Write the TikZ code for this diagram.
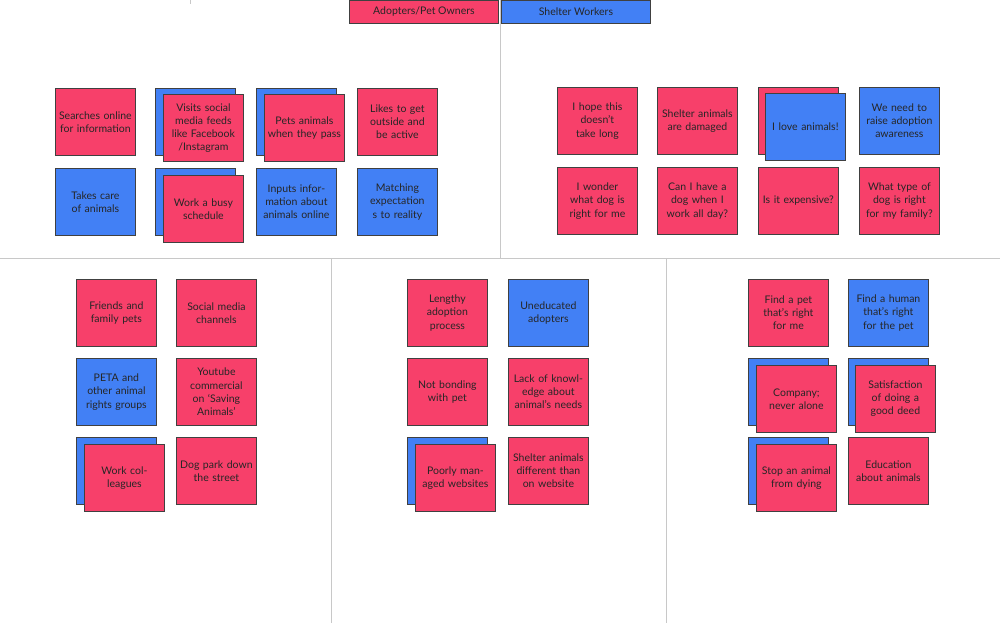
\documentclass[tikz,border=0pt]{standalone}
\usepackage{fontspec}
\setmainfont{Lato}
\definecolor{pk}{RGB}{247,64,106}
\definecolor{bl}{RGB}{66,128,245}
\definecolor{ln}{RGB}{200,200,200}
\tikzset{
 note/.style={draw=black!75,line width=0.8pt,anchor=north west,minimum width=80pt,minimum height=67pt,text width=74pt,align=center,inner sep=2pt,font=\fontsize{10.5}{13.2}\selectfont,text=black!85},
 pn/.style={note,fill=pk}, bn/.style={note,fill=bl},
 hdr/.style={draw=black!75,line width=0.8pt,anchor=north west,minimum width=149pt,minimum height=23pt,inner sep=0pt,font=\fontsize{10.5}{12}\selectfont,text=black!85},
 sep/.style={draw=ln,line width=0.8pt}
}
\begin{document}
\begin{tikzpicture}[x=1pt,y=-1pt]
\path[use as bounding box] (0,0) rectangle (1000,623);
\coordinate (v1a) at (500,0); \coordinate (v1b) at (500,258);
\coordinate (ha) at (0,258); \coordinate (hb) at (1000,258);
\coordinate (v2a) at (331,258); \coordinate (v2b) at (331,623);
\coordinate (v3a) at (666,258); \coordinate (v3b) at (666,623);
\coordinate (t1) at (190,0); \coordinate (t2) at (190,4);
\draw[sep] (v1a)--(v1b); \draw[sep] (ha)--(hb); \draw[sep] (v2a)--(v2b); \draw[sep] (v3a)--(v3b); \draw[sep] (t1)--(t2);
\node[hdr,fill=pk] (h1) at (349,0) {Adopters/Pet Owners};
\node[hdr,fill=bl] (h2) at (501,0) {Shelter Workers};
% top-left
\node[pn] (a1) at (55,88) {Searches online for information};
\node[bn] (a2b) at (155,88) {};
\node[pn] (a2) at (163,94) {Visits social media feeds like Facebook /Instagram};
\node[bn] (a3b) at (256,88) {};
\node[pn] (a3) at (264,94) {Pets animals when they pass};
\node[pn] (a4) at (357,88) {Likes to get outside and be active};
\node[bn] (a5) at (55,168) {Takes care of animals};
\node[bn] (a6b) at (155,168) {};
\node[pn] (a6) at (163,175) {Work a busy schedule};
\node[bn] (a7) at (256,168) {Inputs information about animals online};
\node[bn] (a8) at (357,168) {Matching expectation s to reality};
% top-right
\node[pn] (b1) at (557,87) {I hope this doesn't take long};
\node[pn] (b2) at (657,87) {Shelter animals are damaged};
\node[pn] (b3b) at (758,87) {};
\node[bn] (b3) at (765,93) {I love animals!};
\node[bn] (b4) at (859,87) {We need to raise adoption awareness};
\node[pn] (b5) at (557,167) {I wonder what dog is right for me};
\node[pn] (b6) at (657,167) {Can I have a dog when I work all day?};
\node[pn] (b7) at (758,167) {Is it expensive?};
\node[pn] (b8) at (859,167) {What type of dog is right for my family?};
% bottom-left
\node[pn] (c1) at (76,279) {Friends and family pets};
\node[pn] (c2) at (176,279) {Social media channels};
\node[bn] (c3) at (76,358) {PETA and other animal rights groups};
\node[pn] (c4) at (176,358) {Youtube commercial on `Saving Animals'};
\node[bn] (c5b) at (76,437) {};
\node[pn] (c5) at (84,444) {Work colleagues};
\node[pn] (c6) at (176,437) {Dog park down the street};
% bottom-middle
\node[pn] (d1) at (407,279) {Lengthy adoption process};
\node[bn] (d2) at (508,279) {Uneducated adopters};
\node[pn] (d3) at (407,358) {Not bonding with pet};
\node[pn] (d4) at (508,358) {Lack of knowledge about animal's needs};
\node[bn] (d5b) at (407,437) {};
\node[pn] (d5) at (415,444) {Poorly managed websites};
\node[pn] (d6) at (508,437) {Shelter animals different than on website};
% bottom-right
\node[pn] (e1) at (748,279) {Find a pet that's right for me};
\node[bn] (e2) at (848,279) {Find a human that's right for the pet};
\node[bn] (e3b) at (748,358) {};
\node[pn] (e3) at (756,365) {Company; never alone};
\node[bn] (e4b) at (848,358) {};
\node[pn] (e4) at (855,365) {Satisfaction of doing a good deed};
\node[bn] (e5b) at (748,437) {};
\node[pn] (e5) at (756,444) {Stop an animal from dying};
\node[pn] (e6) at (848,437) {Education about animals};
\end{tikzpicture}
\end{document}
